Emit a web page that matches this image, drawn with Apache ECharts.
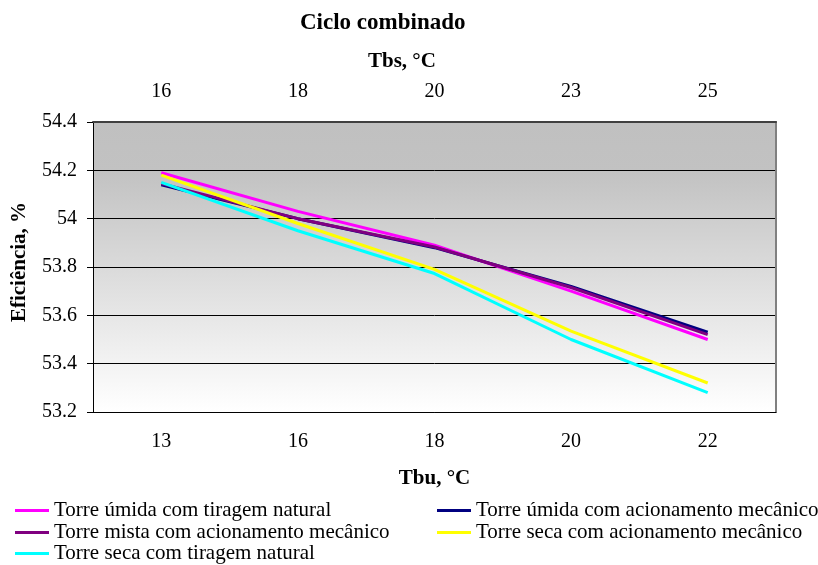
<!DOCTYPE html>
<html><head><meta charset="utf-8">
<script src="https://cdn.jsdelivr.net/npm/echarts@6/dist/echarts.min.js"></script>
<style>html,body{margin:0;padding:0;background:#fff}#c{width:818px;height:565px}</style>
</head><body><div id="c"></div>
<script>
const tbu = ['13', '16', '18', '20', '22'];
const tbs = ['16', '18', '20', '23', '25'];
const seriesNames = [
  'Torre úmida com tiragem natural',
  'Torre úmida com acionamento mecânico',
  'Torre mista com acionamento mecânico',
  'Torre seca com acionamento mecânico',
  'Torre seca com tiragem natural'
];
const umidaNatural = [54.19, 54.03, 53.89, 53.70, 53.50];
const umidaMecanico = [54.14, 54.00, 53.88, 53.72, 53.53];
const mistaMecanico = [54.145, 54.00, 53.883, 53.715, 53.52];
const secaMecanico = [54.18, 53.98, 53.79, 53.535, 53.32];
const secaNatural = [54.15, 53.95, 53.773, 53.50, 53.28];
const yTicks = {min: 53.2, max: 54.4, interval: 0.2};

const colors = ['#ff00ff', '#000080', '#800080', '#ffff00', '#00ffff'];
const values = [umidaNatural, umidaMecanico, mistaMecanico, secaMecanico, secaNatural];
const FF = 'Liberation Serif, Times New Roman, serif';
const LS = 20; // label font size
const NS = 21; // axis name font size

// legend placement (layout only)
const legendPos = [[15, 500], [437, 500], [15, 522], [437, 522], [15, 543]];

const chart = echarts.init(document.getElementById('c'), null, {renderer: 'canvas'});
const tickStyle = {color: '#000', width: 1};
chart.setOption({
  animation: false,
  textStyle: {fontFamily: FF},
  title: [
    {text: 'Ciclo combinado', left: 300, top: 12, padding: 0, textStyle: {fontFamily: FF, fontSize: 23, fontWeight: 'bold', color: '#000'}},
    {text: 'Tbs, °C', left: 368, top: 51, padding: 0, textStyle: {fontFamily: FF, fontSize: NS, fontWeight: 'bold', color: '#000'}}
  ],
  grid: {left: 93, right: 42, top: 122, bottom: 153, show: true, borderWidth: 0,
    backgroundColor: new echarts.graphic.LinearGradient(0, 0, 0, 1, [
      {offset: 0, color: '#c0c0c0'}, {offset: 0.17, color: '#c2c2c2'}, {offset: 1, color: '#ffffff'}
    ])},
  legend: seriesNames.map((n, i) => ({
    data: [n], left: legendPos[i][0], top: legendPos[i][1], padding: 0,
    icon: 'rect', itemWidth: 34, itemHeight: 3,
    textStyle: {fontFamily: FF, fontSize: 21, color: '#000'}
  })),
  xAxis: [
    {type: 'category', data: tbu, position: 'bottom', boundaryGap: true,
      axisLine: {lineStyle: {color: '#000', width: 1}},
      axisTick: {length: 6, lineStyle: tickStyle},
      axisLabel: {margin: 20, fontSize: LS, color: '#000', fontFamily: FF},
      name: 'Tbu, °C', nameLocation: 'middle', nameGap: 56,
      nameTextStyle: {fontFamily: FF, fontSize: NS, fontWeight: 'bold', color: '#000'}},
    {type: 'category', data: tbu, position: 'bottom', boundaryGap: true,
      axisLine: {show: false}, axisTick: {alignWithLabel: true, length: 6, lineStyle: tickStyle},
      axisLabel: {show: false}},
    {type: 'category', data: tbs, position: 'top', boundaryGap: true,
      axisLine: {lineStyle: {color: '#404040', width: 2}},
      axisTick: {length: 6, lineStyle: tickStyle},
      axisLabel: {margin: 20, fontSize: LS, color: '#000', fontFamily: FF}},
    {type: 'category', data: tbs, position: 'top', boundaryGap: true,
      axisLine: {show: false}, axisTick: {alignWithLabel: true, length: 5, lineStyle: tickStyle},
      axisLabel: {show: false}}
  ],
  yAxis: [
    {type: 'value', min: yTicks.min, max: yTicks.max, interval: yTicks.interval, position: 'left',
      axisLine: {show: true, lineStyle: {color: '#000', width: 1}},
      axisTick: {show: true, length: 6, lineStyle: tickStyle},
      axisLabel: {margin: 16, fontSize: LS, color: '#000', fontFamily: FF,
        formatter: v => String(parseFloat(v.toFixed(1)))},
      splitLine: {show: true, lineStyle: {color: '#000', width: 1}},
      name: 'Eficiência, %', nameLocation: 'middle', nameGap: 63,
      nameTextStyle: {fontFamily: FF, fontSize: NS, fontWeight: 'bold', color: '#000', padding: [0, 0, 0, 10]}},
    {type: 'value', min: yTicks.min, max: yTicks.max, interval: yTicks.interval, position: 'right',
      axisLine: {show: true, lineStyle: {color: '#808080', width: 2}},
      axisTick: {show: false}, axisLabel: {show: false}, splitLine: {show: false}}
  ],
  series: values.map((d, i) => ({
    name: seriesNames[i], type: 'line', data: d, xAxisIndex: 0, yAxisIndex: 0,
    symbol: 'none', color: colors[i], lineStyle: {color: colors[i], width: 3}
  }))
});
</script></body></html>
